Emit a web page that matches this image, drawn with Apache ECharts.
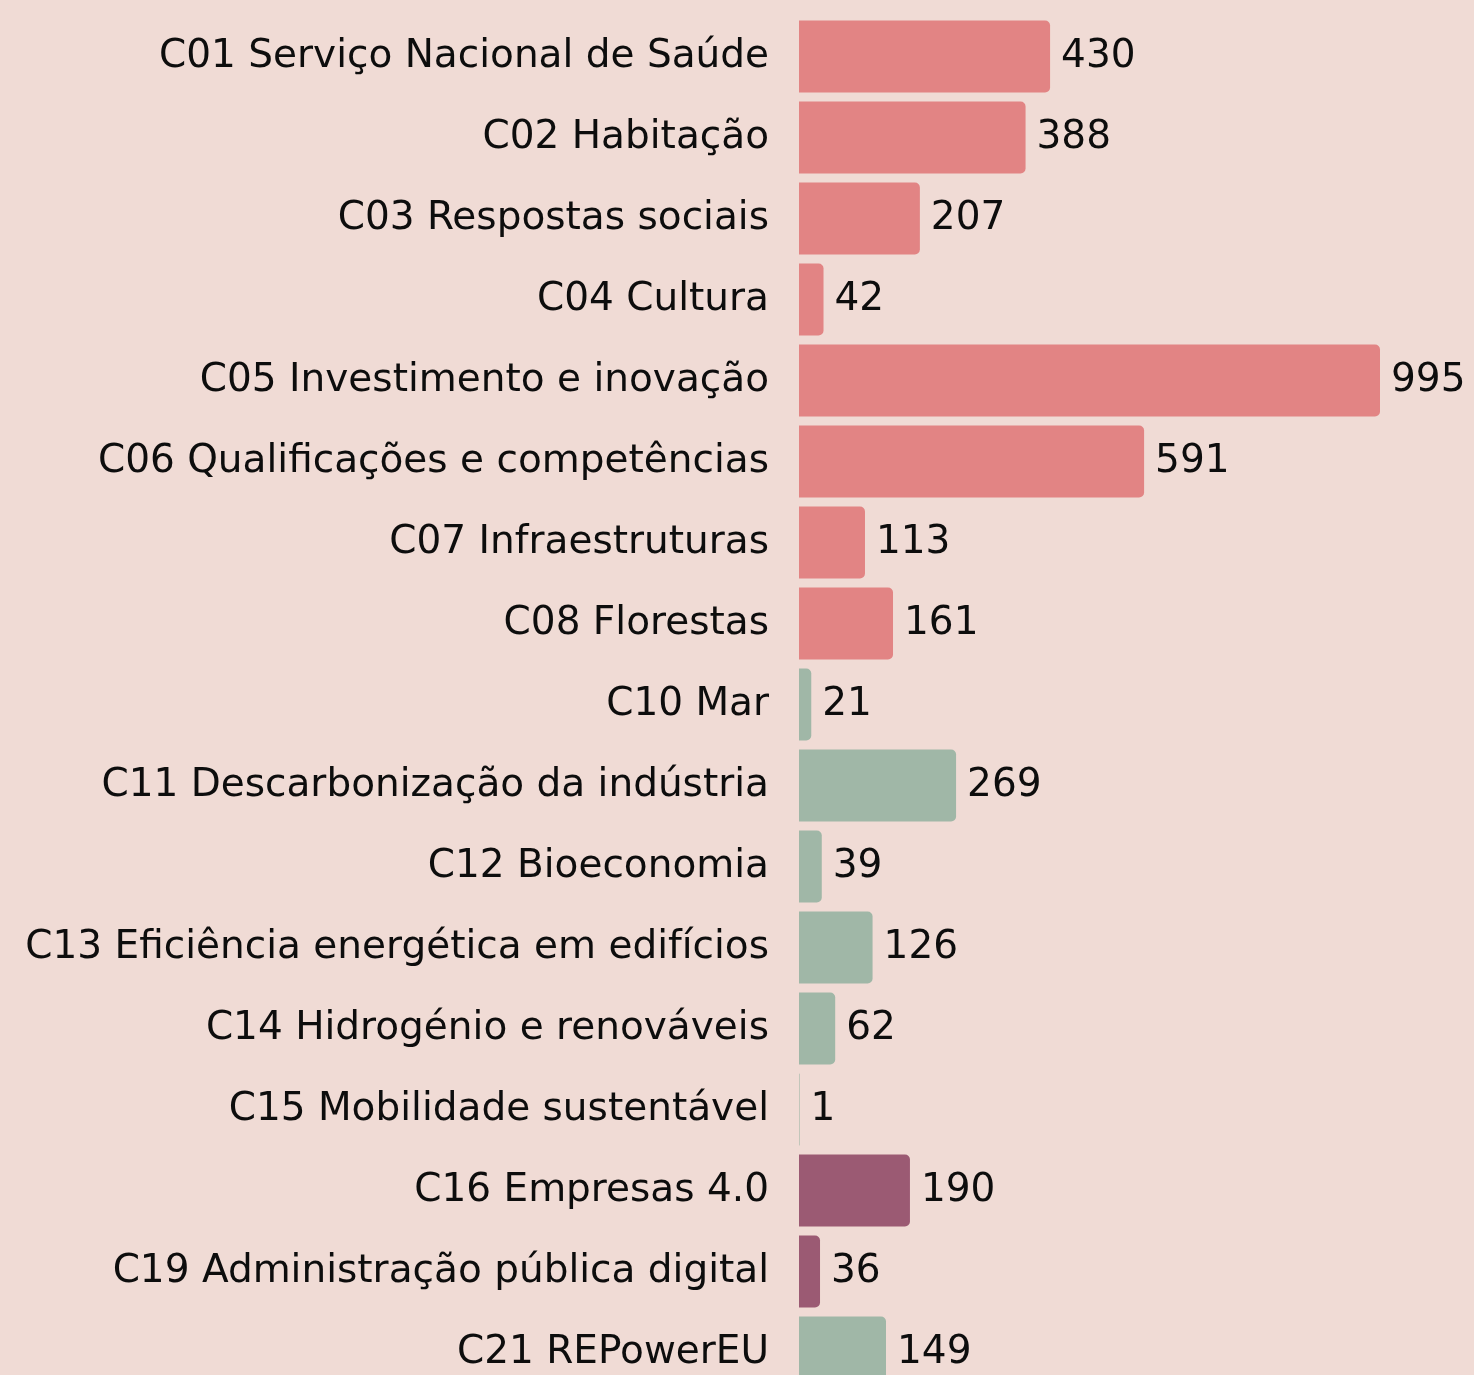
<!DOCTYPE html>
<html>
<head>
<meta charset="utf-8">
<script src="https://cdn.jsdelivr.net/npm/echarts@6/dist/echarts.min.js"></script>
<style>
  html, body { margin: 0; padding: 0; background: #f0dbd5; overflow: hidden; }
  #chart { width: 1474px; height: 1394px; }
</style>
</head>
<body>
<div id="chart"></div>
<script>
const categories = [
  "C01 Serviço Nacional de Saúde",
  "C02 Habitação",
  "C03 Respostas sociais",
  "C04 Cultura",
  "C05 Investimento e inovação",
  "C06 Qualificações e competências",
  "C07 Infraestruturas",
  "C08 Florestas",
  "C10 Mar",
  "C11 Descarbonização da indústria",
  "C12 Bioeconomia",
  "C13 Eficiência energética em edifícios",
  "C14 Hidrogénio e renováveis",
  "C15 Mobilidade sustentável",
  "C16 Empresas 4.0",
  "C19 Administração pública digital",
  "C21 REPowerEU"
];
const values = [430, 388, 207, 42, 995, 591, 113, 161, 21, 269, 39, 126, 62, 1, 190, 36, 149];
// dimension per component: resilience / climate transition / digital transition
const groups = ["res", "res", "res", "res", "res", "res", "res", "res",
  "clim", "clim", "clim", "clim", "clim", "clim", "dig", "dig", "clim"];
const groupColors = { res: "#e28484", clim: "#a0b7a7", dig: "#9b5a73" };

const font = "DejaVu Sans";

const chart = echarts.init(document.getElementById("chart"));
chart.setOption({
  backgroundColor: "#f0dbd5",
  animation: false,
  grid: { left: 799, right: 94, top: 16, bottom: 1 },
  xAxis: {
    type: "value",
    min: 0,
    max: 995,
    show: false
  },
  yAxis: {
    type: "category",
    data: categories,
    inverse: true,
    axisLine: { show: false },
    axisTick: { show: false },
    axisLabel: {
      margin: 30,
      color: "#0d0d0d",
      fontFamily: font,
      fontSize: 39
    }
  },
  series: [{
    type: "bar",
    barCategoryGap: "11%",
    data: values.map((v, i) => ({
      value: v,
      itemStyle: { color: groupColors[groups[i]] }
    })),
    itemStyle: { borderRadius: [0, 5, 5, 0] },
    label: {
      show: true,
      position: "right",
      distance: 11,
      color: "#0d0d0d",
      fontFamily: font,
      fontSize: 39
    }
  }]
});
</script>
</body>
</html>
